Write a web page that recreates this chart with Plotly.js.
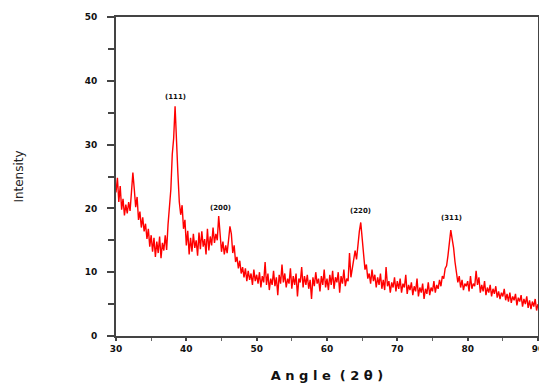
<!DOCTYPE html>
<html>
<head>
<meta charset="utf-8">
<script src="https://cdn.plot.ly/plotly-3.0.1.min.js"></script>
<style>html,body{margin:0;padding:0;background:#fff;}#chart{width:539px;height:383px;}</style>
</head>
<body>
<div id="chart"></div>
<script>
// XRD pattern, 2θ from 30 to 90 in 0.2° steps
var angleStart = 30;
var angleStep = 0.2;
var intensity = [
  22.5, 24.8, 21.0, 23.5, 19.8, 21.5, 18.9, 20.6, 19.2, 21.0,
  19.6, 22.8, 25.6, 23.0, 20.2, 21.8, 18.2, 19.5, 17.0, 18.6,
  16.4, 17.6, 15.2, 16.8, 14.0, 15.8, 13.2, 15.4, 12.4, 14.8,
  13.0, 15.6, 12.2, 14.6, 13.4, 15.8, 13.5, 17.5, 20.0, 23.0,
  28.5, 31.0, 36.0, 29.0, 25.5, 21.0, 19.0, 20.5, 16.8, 18.2,
  14.2, 16.5, 12.8, 15.4, 13.2, 16.0, 13.8, 15.0, 12.6, 16.2,
  13.6, 16.4, 14.0, 15.2, 12.8, 16.8, 13.4, 15.6, 14.2, 17.0,
  14.6, 16.0, 15.0, 18.8, 15.5, 13.2, 14.8, 12.8, 14.2, 13.0,
  15.0, 17.2, 16.0, 13.0, 14.2, 11.6, 12.4, 10.6, 11.8, 9.8,
  10.8, 9.2, 10.6, 8.6, 10.2, 8.8, 9.8, 8.0, 10.4, 8.6,
  9.6, 8.2, 10.0, 7.6, 9.4, 8.4, 11.6, 8.0, 9.8, 7.2,
  9.0, 8.0, 10.2, 7.8, 9.2, 6.4, 9.6, 8.2, 11.2, 8.4,
  9.8, 7.6, 9.0, 8.2, 10.6, 7.4, 9.4, 8.0, 9.8, 6.2,
  9.0, 8.4, 10.8, 7.6, 9.4, 8.0, 9.6, 7.4, 8.8, 5.8,
  9.2, 7.8, 10.0, 8.2, 9.0, 7.0, 9.4, 8.0, 10.4, 7.6,
  9.0, 7.2, 9.6, 8.0, 10.2, 7.4, 9.2, 8.4, 10.0, 6.8,
  9.4, 8.2, 10.4, 7.8, 9.0, 8.6, 13.0, 9.2, 10.6, 12.0,
  13.4, 12.0, 15.0, 16.4, 17.8, 15.0, 12.6, 10.4, 11.2, 9.0,
  9.8, 8.2, 10.4, 8.6, 9.6, 7.6, 9.2, 8.0, 9.8, 7.4,
  8.8, 7.2, 10.8, 7.8, 8.6, 6.8, 8.4, 7.6, 9.2, 7.0,
  8.6, 7.4, 9.0, 6.8, 8.2, 7.6, 9.6, 6.6, 8.0, 7.2,
  8.4, 6.4, 7.8, 7.0, 9.0, 6.2, 7.6, 6.8, 8.2, 5.8,
  7.4, 6.6, 8.4, 6.4, 7.6, 7.0, 8.6, 6.8, 8.0, 7.4,
  8.8, 7.8, 9.4, 9.0, 10.6, 11.0, 12.6, 14.6, 16.6, 15.2,
  13.8, 11.6, 10.0, 8.4, 9.4, 7.6, 8.8, 7.2, 8.2, 7.8,
  8.6, 7.0, 9.4, 7.4, 8.2, 7.8, 10.2, 8.0, 9.2, 6.8,
  8.0, 7.0, 8.6, 6.4, 7.6, 6.8, 8.0, 6.2, 7.4, 6.6,
  7.8, 6.0, 7.0, 5.8, 6.8, 6.2, 7.4, 5.6, 6.6, 5.4,
  6.8, 5.2, 6.2, 5.6, 6.6, 4.8, 6.0, 5.4, 6.4, 4.6,
  5.8, 5.0, 6.2, 4.4, 5.6, 4.2, 5.4, 4.6, 5.8, 4.0,
  5.0
];
var peakLabels = ["(111)", "(200)", "(220)", "(311)"];
var peakAngles = [38.4, 44.8, 64.7, 77.7];
var peakLabelY = [36.5, 19.2, 18.6, 17.6];
var xTickVals = [30, 40, 50, 60, 70, 80, 90];
var xTickText = ["30", "40", "50", "60", "70", "80", "90"];
var yTickVals = [0, 10, 20, 30, 40, 50];
var yTickText = ["0", "10", "20", "30", "40", "50"];

var angle = intensity.map(function (_, i) { return +(angleStart + i * angleStep).toFixed(2); });

var trace = {
  x: angle, y: intensity, type: "scatter", mode: "lines",
  line: { color: "#ff0000", width: 1.4 }, hoverinfo: "skip"
};

var annotations = peakLabels.map(function (t, i) {
  return { x: peakAngles[i], y: peakLabelY[i], text: "<b>" + t + "</b>", showarrow: false,
    font: { family: "DejaVu Sans", size: 7, color: "#111" }, yanchor: "bottom" };
});

var layout = {
  width: 539, height: 383,
  margin: { l: 116, r: 1, t: 17, b: 47 },
  paper_bgcolor: "#fff", plot_bgcolor: "#fff",
  showlegend: false,
  xaxis: {
    range: [30, 90], tickvals: xTickVals, ticktext: xTickText,
    ticks: "outside", ticklen: 3, tickwidth: 2, tickcolor: "#444",
    ticklabeloverflow: "allow",
    minor: { dtick: 5, tick0: 35, ticks: "outside", ticklen: 3, tickwidth: 1, tickcolor: "#666" },
    showline: true, linecolor: "#444", linewidth: 2, mirror: true,
    showgrid: false, zeroline: false,
    tickfont: { family: "DejaVu Sans", size: 9, color: "#111", weight: "bold" },
    title: { text: "<b>A n g l e  ( 2 θ )</b>", font: { family: "DejaVu Sans", size: 13, color: "#111" }, standoff: 18 }
  },
  yaxis: {
    range: [0, 50], tickvals: yTickVals, ticktext: yTickText,
    ticks: "outside", ticklen: 7, tickwidth: 2, tickcolor: "#444",
    ticklabelstandoff: 8,
    minor: { dtick: 10, tick0: 5, ticks: "outside", ticklen: 6, tickwidth: 2, tickcolor: "#444" },
    showline: true, linecolor: "#444", linewidth: 2, mirror: true,
    showgrid: false, zeroline: false,
    tickfont: { family: "DejaVu Sans", size: 9, color: "#111", weight: "bold" },
    title: { text: "Intensity", font: { family: "DejaVu Sans", size: 12, color: "#222" }, standoff: 58 }
  },
  annotations: annotations
};

Plotly.newPlot("chart", [trace], layout, { staticPlot: true, displayModeBar: false });
</script>
</body>
</html>
